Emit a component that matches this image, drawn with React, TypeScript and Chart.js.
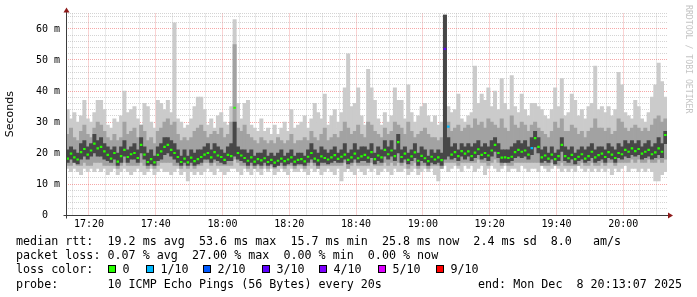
import { useEffect, useRef } from 'react';
import { Chart, registerables } from 'chart.js';

Chart.register(...registerables);

// time axis: minutes after 17:00, one sample per minute, start 17:13:07
const startMinute = 13 + 7 / 60;
const spanMinutes = 180;

const xMajorMinutes = [20, 40, 60, 80, 100, 120, 140, 160, 180];
const xMajorLabels = ['17:20', '17:40', '18:00', '18:20', '18:40', '19:00', '19:20', '19:40', '20:00'];

// median rtt (ms)
const medianMs = [
  18.2, 19.8, 18.6, 17.9, 20.3, 21.3, 19.5, 20.8, 23.0, 21.5,
  22.0, 20.5, 19.4, 18.2, 20.0, 17.2, 19.0, 21.0, 18.7, 19.6,
  20.0, 18.4, 22.6, 19.5, 17.1, 18.0, 17.0, 19.4, 20.5, 22.0,
  22.6, 21.0, 20.0, 18.7, 17.1, 18.2, 17.0, 18.5, 17.4, 18.0,
  18.7, 19.5, 20.0, 18.6, 20.3, 19.2, 18.7, 17.8, 19.4, 19.0,
  34.6, 20.0, 19.2, 18.4, 17.5, 18.6, 17.2, 18.0, 17.6, 18.3,
  17.1, 17.8, 16.9, 17.5, 18.2, 17.4, 17.9, 18.6, 17.2, 17.8,
  18.0, 17.3, 18.8, 20.0, 18.2, 17.6, 18.9, 18.4, 17.9, 18.6,
  19.3, 18.1, 18.8, 19.5, 17.8, 18.6, 19.8, 18.3, 18.9, 19.4,
  18.5, 20.3, 18.0, 19.2, 18.6, 21.0, 19.6, 20.8, 19.0, 23.5,
  18.7, 19.8, 17.8, 18.9, 20.2, 17.5, 19.1, 18.3, 17.4, 18.8,
  17.9, 18.6, 17.7, 53.6, 28.5, 19.5, 20.3, 19.0, 20.6, 19.8,
  20.5, 19.0, 20.1, 21.2, 19.4, 20.0, 19.2, 20.8, 22.6, 20.0,
  18.5, 18.6, 18.4, 18.8, 20.3, 21.0, 20.4, 20.8, 19.5, 21.6,
  24.8, 22.0, 18.6, 19.2, 18.2, 19.5, 18.0, 19.0, 22.6, 19.0,
  18.3, 19.4, 18.0, 18.8, 19.6, 18.2, 19.0, 20.4, 18.6, 19.3,
  19.8, 18.7, 20.3, 19.5, 18.4, 20.0, 19.6, 21.0, 20.4, 21.5,
  20.6, 21.3, 19.8, 20.4, 21.0, 19.6, 20.2, 21.5, 20.4, 25.8,
];

// outer smoke: slowest ping (ms)
const maxMs = [
  34, 31, 33, 30, 32, 37, 31, 30, 33, 37,
  37, 34, 29, 28, 31, 30, 32, 40, 33, 34,
  35, 31, 29, 36, 35, 30, 28, 37, 36, 34,
  37, 33, 62, 31, 30, 28, 29, 31, 35, 38,
  38, 34, 29, 31, 28, 32, 33, 30, 29, 35,
  63, 36, 31, 36, 37, 29, 28, 27, 31, 27,
  28, 26, 29, 26, 28, 30, 27, 34, 28, 29,
  30, 32, 28, 31, 36, 33, 31, 39, 29, 32,
  34, 30, 33, 41, 52, 35, 36, 41, 32, 29,
  47, 41, 37, 31, 29, 33, 30, 32, 41, 37,
  37, 31, 42, 33, 30, 32, 35, 36, 32, 30,
  32, 29, 30, 64.5, 35, 33, 34, 39, 31, 30,
  32, 33, 48, 36, 39, 37, 41, 35, 40, 34,
  44, 36, 34, 45, 35, 33, 39, 34, 32, 36,
  36, 35, 34, 32, 31, 34, 41, 35, 44, 32,
  33, 39, 37, 32, 34, 31, 35, 36, 48, 34,
  35, 33, 35, 32, 34, 46, 42, 33, 32, 31,
  37, 35, 31, 30, 33, 38, 42, 49, 43, 38,
];

// outer smoke: fastest ping (ms)
const minMs = [
  15, 14, 15, 14, 13, 15, 14, 15, 14, 15,
  14, 15, 13, 14, 15, 13, 14, 15, 14, 13,
  14, 15, 14, 13, 14, 15, 13, 14, 15, 14,
  14, 13, 14, 15, 13, 14, 11, 14, 13, 14,
  13, 14, 15, 14, 13, 15, 14, 13, 14, 15,
  15, 14, 13, 15, 14, 13, 15, 14, 13, 15,
  14, 15, 13, 14, 15, 14, 13, 15, 14, 14,
  15, 14, 13, 15, 14, 15, 13, 14, 15, 14,
  13, 15, 11, 14, 15, 14, 13, 15, 14, 13,
  15, 14, 15, 13, 14, 15, 14, 13, 15, 14,
  14, 15, 13, 14, 15, 13, 14, 15, 14, 15,
  13, 11, 15, 16, 14, 15, 16, 15, 14, 16,
  15, 16, 14, 15, 16, 13, 15, 16, 15, 14,
  15, 16, 14, 15, 15, 14, 16, 15, 14, 15,
  15, 14, 16, 15, 14, 15, 16, 15, 14, 15,
  14, 15, 14, 16, 15, 14, 15, 14, 15, 14,
  15, 14, 15, 13, 15, 14, 15, 16, 14, 15,
  15, 14, 15, 14, 15, 14, 11, 11, 13, 14,
];

// middle smoke band (ms)
const midHighMs = [
  26, 28, 25, 24, 27, 29, 26, 25, 28, 30,
  29, 27, 25, 24, 26, 24, 25, 30, 26, 27,
  28, 25, 29, 27, 24, 25, 23, 27, 28, 30,
  31, 29, 30, 26, 24, 25, 24, 25, 27, 28,
  29, 27, 25, 26, 27, 26, 28, 25, 26, 30,
  55, 28, 27, 29, 26, 25, 24, 23, 25, 24,
  23, 24, 23, 25, 24, 23, 24, 26, 23, 24,
  24, 25, 24, 27, 25, 24, 26, 28, 24, 25,
  26, 25, 27, 30, 28, 26, 27, 29, 26, 25,
  30, 29, 27, 26, 25, 28, 26, 27, 30, 29,
  28, 26, 30, 27, 25, 26, 27, 28, 26, 25,
  25, 24, 25, 64.5, 30, 27, 28, 29, 27, 28,
  29, 28, 31, 29, 30, 28, 31, 30, 29, 28,
  31, 28, 27, 32, 29, 28, 30, 29, 27, 29,
  30, 28, 27, 26, 25, 27, 30, 28, 31, 27,
  27, 29, 28, 26, 27, 25, 27, 28, 31, 28,
  28, 27, 28, 26, 27, 31, 30, 28, 27, 28,
  29, 28, 27, 28, 27, 29, 31, 32, 30, 31,
];
const midLowMs = [
  16, 16, 17, 16, 16, 17, 16, 16, 17, 17,
  17, 16, 16, 16, 16, 15, 16, 17, 16, 16,
  16, 16, 17, 16, 15, 16, 15, 16, 17, 17,
  17, 17, 16, 16, 15, 16, 15, 16, 15, 16,
  16, 17, 17, 16, 17, 16, 16, 16, 16, 16,
  18, 17, 16, 16, 15, 16, 15, 16, 15, 16,
  15, 16, 15, 16, 16, 15, 16, 16, 15, 16,
  16, 15, 16, 17, 16, 15, 16, 16, 16, 16,
  16, 16, 16, 17, 15, 16, 17, 16, 16, 16,
  16, 17, 16, 16, 16, 17, 16, 17, 16, 17,
  16, 17, 15, 16, 17, 15, 16, 16, 15, 16,
  16, 16, 15, 17, 17, 17, 17, 16, 17, 17,
  17, 17, 17, 18, 17, 17, 16, 17, 18, 17,
  16, 17, 16, 16, 17, 17, 17, 17, 17, 17,
  17, 17, 16, 16, 16, 17, 16, 16, 17, 16,
  16, 16, 16, 16, 17, 16, 16, 17, 16, 16,
  17, 16, 17, 17, 16, 17, 17, 17, 17, 18,
  17, 18, 17, 17, 18, 17, 17, 18, 17, 18,
];

// inner (dark) smoke band (ms)
const darkHighMs = [
  21, 22, 21, 20, 23, 24, 22, 23, 26, 24,
  25, 23, 22, 21, 22, 20, 22, 24, 21, 22,
  23, 21, 25, 22, 20, 21, 19, 22, 23, 25,
  25, 24, 23, 21, 19, 21, 19, 21, 20, 21,
  21, 22, 23, 21, 23, 22, 21, 20, 22, 23,
  30, 22, 21, 21, 20, 21, 19, 20, 20, 21,
  19, 20, 19, 20, 21, 19, 20, 21, 19, 20,
  20, 19, 21, 23, 21, 20, 22, 21, 20, 21,
  22, 20, 21, 23, 20, 21, 23, 21, 22, 22,
  21, 23, 20, 22, 21, 24, 22, 24, 21, 26,
  21, 22, 20, 21, 23, 20, 22, 21, 19, 21,
  20, 21, 20, 64.5, 25, 22, 23, 21, 23, 22,
  23, 22, 23, 24, 22, 23, 22, 24, 25, 23,
  21, 21, 21, 22, 23, 24, 23, 24, 22, 25,
  27, 25, 21, 22, 20, 22, 20, 21, 25, 22,
  21, 22, 20, 21, 22, 21, 22, 23, 21, 22,
  22, 21, 23, 22, 21, 23, 22, 24, 23, 24,
  23, 24, 22, 23, 24, 22, 23, 25, 23, 27,
];
const darkLowMs = [
  17, 18, 17, 16.5, 18, 19, 18, 19, 20, 19,
  19, 18, 17.5, 17, 18, 16, 17, 19, 17, 18,
  18, 17, 20, 18, 16, 16.5, 16, 17.5, 18, 19.5,
  20, 19, 18, 17, 16, 17, 16, 17, 16, 16.5,
  17, 18, 18, 17, 18, 17.5, 17, 16.5, 17.5, 17.5,
  19, 18, 17.5, 17, 16, 17, 16, 16.5, 16, 17,
  16, 16.5, 15.5, 16, 17, 16, 16.5, 17, 16, 16.5,
  16.5, 16, 17, 18, 17, 16, 17, 17, 16.5, 17,
  17.5, 17, 17, 18, 16.5, 17, 18, 17, 17.5, 17.5,
  17, 18.5, 16.5, 17.5, 17, 19, 18, 19, 17.5, 20,
  17, 18, 16.5, 17.5, 18.5, 16, 17.5, 17, 16, 17,
  16.5, 17, 16, 18, 19, 18, 18.5, 17.5, 19, 18,
  19, 17.5, 18.5, 19.5, 18, 18.5, 17.5, 19, 20.5, 18.5,
  17, 17, 17, 17.5, 18.5, 19, 18.5, 19, 18, 19.5,
  22, 20, 17, 17.5, 17, 18, 16.5, 17.5, 20.5, 17.5,
  17, 18, 16.5, 17.5, 18, 17, 17.5, 18.5, 17, 17.5,
  18, 17, 18.5, 18, 17, 18.5, 18, 19, 18.5, 19.5,
  19, 19.5, 18, 18.5, 19, 18, 18.5, 19.5, 18.5, 23,
];

// samples with packet loss: [sample index, lost pings out of 10]
const lossEvents: [number, number][] = [[113, 3], [114, 1], [139, 1]];

const lossLegendLabels = ['0', '1/10', '2/10', '3/10', '4/10', '5/10', '9/10'];
const lossLegendColors = ['#26ff00', '#00b8ff', '#0059ff', '#5e00ff', '#7e00ff', '#dd00ff', '#ff0000'];
const lossColorByCount: Record<number, string> = {
  0: '#26ff00', 1: '#00b8ff', 2: '#0059ff', 3: '#5e00ff', 4: '#7e00ff', 5: '#dd00ff', 9: '#ff0000',
};

const MONO = '"DejaVu Sans Mono", monospace';

const axesPlugin = {
  id: 'rrdAxes',
  afterDraw(chart: any) {
    const { ctx, chartArea } = chart;
    const l = Math.round(chartArea.left) + 0.5;
    const b = Math.round(chartArea.bottom) + 0.5;
    ctx.save();
    ctx.strokeStyle = '#3c3c3c';
    ctx.lineWidth = 1;
    ctx.beginPath();
    ctx.moveTo(l, b + 3);
    ctx.lineTo(l, chartArea.top - 2);
    ctx.moveTo(l - 3, b);
    ctx.lineTo(chartArea.right + 3, b);
    ctx.stroke();
    ctx.fillStyle = '#8e1a1a';
    ctx.beginPath();
    ctx.moveTo(l - 3, chartArea.top - 1);
    ctx.lineTo(l + 3, chartArea.top - 1);
    ctx.lineTo(l, chartArea.top - 6);
    ctx.closePath();
    ctx.fill();
    ctx.beginPath();
    ctx.moveTo(chartArea.right + 1, b - 3);
    ctx.lineTo(chartArea.right + 1, b + 3);
    ctx.lineTo(chartArea.right + 6, b);
    ctx.closePath();
    ctx.fill();
    ctx.restore();
  },
};

function ChartCanvas() {
  const ref = useRef<HTMLCanvasElement | null>(null);
  useEffect(() => {
    if (!ref.current) return;
    const xs = medianMs.map((_, i) => startMinute + i + 0.5);
    const medColors = medianMs.map(() => lossColorByCount[0]);
    lossEvents.forEach(([i, n]) => { medColors[i] = lossColorByCount[n]; });
    const gridMinutes: number[] = [];
    for (let m = 15; m <= 190; m += 5) gridMinutes.push(m);
    const majorGrid = 'rgba(235,80,80,0.5)';
    const minorGrid = 'rgba(160,160,160,0.45)';

    const band = (lo: number[], hi: number[]) => lo.map((v, i) => ({ x: xs[i], y: [v, hi[i]] }));
    const common = { grouped: false, barPercentage: 1, categoryPercentage: 1, borderWidth: 0 };

    const chart = new Chart(ref.current, {
      type: 'bar',
      data: {
        datasets: [
          { ...common, label: 'max', data: band(minMs, maxMs) as any, backgroundColor: '#cbcbcb', order: 4 },
          { ...common, label: 'mid', data: band(midLowMs, midHighMs) as any, backgroundColor: '#a2a2a2', order: 3 },
          { ...common, label: 'dark', data: band(darkLowMs, darkHighMs) as any, backgroundColor: '#474747', order: 2 },
          { ...common, label: 'median', data: medianMs.map((m, i) => ({ x: xs[i], y: [m - 0.35, m + 0.35] })) as any, backgroundColor: medColors, barPercentage: 0.75, order: 1 },
        ],
      },
      options: {
        responsive: false,
        animation: false,
        devicePixelRatio: 1,
        events: [],
        layout: { padding: { left: 0, top: 13.5, right: 30, bottom: 0 } },
        plugins: { legend: { display: false }, tooltip: { enabled: false } },
        scales: {
          x: {
            type: 'linear',
            position: 'bottom',
            bounds: 'data',
            offset: false,
            min: startMinute,
            max: startMinute + spanMinutes,
            z: 1,
            afterBuildTicks: (s: any) => { s.ticks = gridMinutes.map((v) => ({ value: v })); },
            afterFit: (s: any) => { s.height = 82; s.paddingLeft = 0; s.paddingRight = 0; },
            grid: {
              drawTicks: false,
              lineWidth: 1,
              offset: false,
              color: (c: any) => (c.tick && xMajorMinutes.includes(c.tick.value) ? majorGrid : minorGrid),
            },
            border: { display: false, dash: [1, 1] },
            ticks: {
              autoSkip: false,
              maxRotation: 0,
              padding: 3,
              color: '#000',
              font: { family: MONO, size: 10 },
              callback: (v: any) => {
                const k = xMajorMinutes.indexOf(Number(v));
                return k >= 0 ? xMajorLabels[k] : '';
              },
            },
          },
          y: {
            type: 'linear',
            bounds: 'data',
            min: 0,
            max: 65,
            z: 1,
            afterFit: (s: any) => { s.width = 66; },
            grid: {
              drawTicks: false,
              lineWidth: 1,
              color: (c: any) => (c.tick && c.tick.value % 10 === 0 ? majorGrid : minorGrid),
            },
            border: { display: false, dash: [1, 1] },
            title: { display: true, text: 'Seconds', color: '#000', font: { family: '"DejaVu Sans", sans-serif', size: 11 }, padding: { top: 4, bottom: 0 } },
            ticks: {
              stepSize: 2,
              autoSkip: false,
              includeBounds: false,
              padding: 6,
              color: '#000',
              font: { family: MONO, size: 10 },
              callback: (v: any) => {
                const n = Number(v);
                if (n % 10 !== 0) return '';
                return n === 0 ? '0  ' : `${n} m`;
              },
            },
          },
        },
      },
      plugins: [axesPlugin],
    } as any);
    return () => chart.destroy();
  }, []);
  return <canvas ref={ref} width={697} height={297} style={{ position: 'absolute', left: 0, top: 0, width: 697, height: 297 }} />;
}

const lineStyle = (top: number, left = 16): any => ({
  position: 'absolute', left, top, margin: 0, whiteSpace: 'pre', fontFamily: MONO, fontSize: '11.7px', lineHeight: '14px', color: '#000',
});

const boxLefts = [108, 146, 203, 262, 319, 378, 436];

export default function App() {
  return (
    <div style={{ position: 'fixed', left: 0, top: 0, width: 697, height: 297, background: '#fff', overflow: 'hidden' }}>
      <ChartCanvas />
      <div style={{ position: 'absolute', left: 683.5, top: 5, writingMode: 'vertical-rl', fontFamily: MONO, fontSize: '8.2px', lineHeight: '9px', color: '#c4c4c4', whiteSpace: 'pre' }}>RRDTOOL / TOBI OETIKER</div>
      <div style={lineStyle(234.2)}>median rtt:  19.2 ms avg  53.6 ms max  15.7 ms min  25.8 ms now  2.4 ms sd  8.0   am/s</div>
      <div style={lineStyle(248.3)}>packet loss: 0.07 % avg  27.00 % max  0.00 % min  0.00 % now</div>
      <div style={lineStyle(262.4)}>loss color:</div>
      {lossLegendLabels.map((lab, i) => (
        <div key={lab}>
          <div style={{ position: 'absolute', left: boxLefts[i], top: 265, width: 6, height: 6, border: '1px solid #000', background: lossLegendColors[i] }} />
          <div style={lineStyle(262.4, boxLefts[i] + 14.5)}>{lab}</div>
        </div>
      ))}
      <div style={lineStyle(276.5)}>probe:       10 ICMP Echo Pings (56 Bytes) every 20s</div>
      <div style={lineStyle(276.5, 478)}>end: Mon Dec  8 20:13:07 2025</div>
    </div>
  );
}
